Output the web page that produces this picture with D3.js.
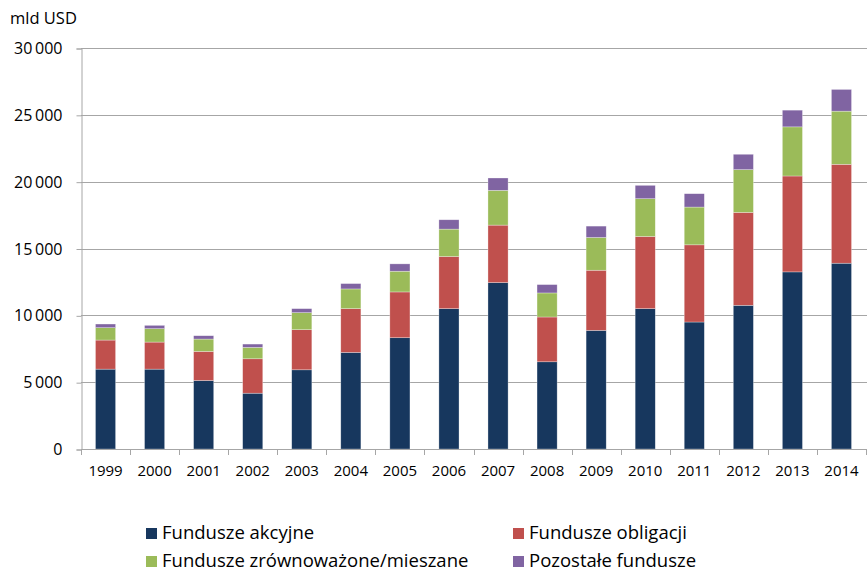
<!DOCTYPE html>
<html>
<head>
<meta charset="utf-8">
<script src="https://cdn.jsdelivr.net/npm/d3@7"></script>
<style>
  body { margin: 0; background: #fff; }
  svg { display: block; font-family: 'Open Sans', sans-serif; }
</style>
</head>
<body>
<div id="chart"></div>
<script>
var years = ['1999', '2000', '2001', '2002', '2003', '2004', '2005', '2006',
    '2007', '2008', '2009', '2010', '2011', '2012', '2013', '2014'];

var akcyjne = [5975, 5975, 5125, 4175, 5925, 7225, 8325, 10500, 12450, 6525, 8875, 10500, 9500, 10750, 13250, 13900];
var obligacji = [2175, 2025, 2175, 2575, 3000, 3275, 3425, 3900, 4300, 3350, 4500, 5400, 5775, 6950, 7175, 7400];
var mieszane = [925, 1000, 925, 850, 1275, 1475, 1550, 2050, 2600, 1800, 2450, 2825, 2825, 3200, 3675, 3975];
var pozostale = [275, 250, 250, 250, 300, 400, 550, 700, 925, 625, 850, 1000, 1000, 1150, 1250, 1625];

var series_names = ['Fundusze akcyjne', 'Fundusze obligacji',
    'Fundusze zrównoważone/mieszane', 'Pozostałe fundusze'];
var series_colors = ['#17375e', '#c0504d', '#9bbb59', '#8064a2'];
var y_ticks = [0, 5000, 10000, 15000, 20000, 25000, 30000];

var chart_width = 867;
var chart_height = 571;
var plot_left = 81, plot_right = 866, plot_top = 48, plot_bottom = 449;

var svg = d3.select('#chart')
    .append('svg')
    .attr('width', chart_width)
    .attr('height', chart_height);

// build table for stacking
var rows = years.map(function (y, i) {
    return { year: y, a: akcyjne[i], o: obligacji[i], m: mieszane[i], p: pozostale[i] };
});
var keys = ['a', 'o', 'm', 'p'];
var stacked = d3.stack().keys(keys)(rows);

var x_scale = d3.scaleBand()
    .domain(years)
    .range([plot_left, plot_right])
    .paddingInner(0.59)
    .paddingOuter(0.295);

var y_scale = d3.scaleLinear()
    .domain([0, 30000])
    .range([plot_bottom, plot_top]);

var fmt = function (d) {
    return d3.format(',')(d).replace(/,/g, '\u2009');
};

// gridlines
svg.append('g')
    .selectAll('line')
    .data(y_ticks.slice(1))
    .enter()
    .append('line')
    .attr('x1', plot_left)
    .attr('x2', plot_right + 1)
    .attr('y1', function (d) { return Math.round(y_scale(d)) + 0.5; })
    .attr('y2', function (d) { return Math.round(y_scale(d)) + 0.5; })
    .attr('stroke', '#a6a6a6')
    .attr('stroke-width', 1);

// y axis
var y_axis = d3.axisLeft(y_scale)
    .tickValues(y_ticks)
    .tickSize(5)
    .tickPadding(14)
    .tickFormat(fmt);
var gy = svg.append('g')
    .attr('class', 'y-axis')
    .attr('transform', 'translate(' + (plot_left + 0.5) + ',0.5)')
    .call(y_axis);
gy.select('.domain').attr('stroke', '#a6a6a6');
gy.selectAll('.tick line').attr('stroke', '#a6a6a6');
gy.selectAll('.tick text')
    .style('font-size', '16px')
    .style('font-family', "'Open Sans', sans-serif")
    .attr('fill', '#000');

// bars
svg.append('g')
    .selectAll('g')
    .data(stacked)
    .enter()
    .append('g')
    .attr('fill', function (d, i) { return series_colors[i]; })
    .selectAll('rect')
    .data(function (d) { return d; })
    .enter()
    .append('rect')
    .attr('x', function (d) { return x_scale(d.data.year); })
    .attr('width', x_scale.bandwidth())
    .attr('y', function (d) { return y_scale(d[1]); })
    .attr('height', function (d) { return y_scale(d[0]) - y_scale(d[1]); })
    .attr('stroke', '#ffffff')
    .attr('stroke-opacity', 0.5)
    .attr('stroke-width', 0.6);

// x axis line and ticks at category boundaries
var step = x_scale.step();
var bounds = d3.range(years.length + 1).map(function (i) { return plot_left + i * step; });
var gx = svg.append('g').attr('class', 'x-axis');
gx.append('line')
    .attr('x1', plot_left)
    .attr('x2', plot_right + 1)
    .attr('y1', plot_bottom + 0.5)
    .attr('y2', plot_bottom + 0.5)
    .attr('stroke', '#a6a6a6');
gx.selectAll('.xt')
    .data(bounds)
    .enter()
    .append('line')
    .attr('class', 'xt')
    .attr('x1', function (d) { return Math.round(d) + 0.5; })
    .attr('x2', function (d) { return Math.round(d) + 0.5; })
    .attr('y1', plot_bottom)
    .attr('y2', plot_bottom + 6)
    .attr('stroke', '#a6a6a6');
gx.selectAll('text')
    .data(years)
    .enter()
    .append('text')
    .attr('x', function (d) { return x_scale(d) + x_scale.bandwidth() / 2; })
    .attr('y', plot_bottom + 27)
    .attr('text-anchor', 'middle')
    .style('font-size', '15px')
    .text(function (d) { return d; });

// unit label
svg.append('text')
    .attr('x', 10)
    .attr('y', 24)
    .style('font-size', '16.5px')
    .text('mld USD');

// legend
var legend_pos = [[146, 533], [513, 533], [146, 561], [513, 561]];
var lg = svg.append('g')
    .selectAll('g')
    .data(series_names)
    .enter()
    .append('g')
    .attr('transform', function (d, i) {
        return 'translate(' + legend_pos[i][0] + ',' + legend_pos[i][1] + ')';
    });
lg.append('rect')
    .attr('x', 0)
    .attr('y', -5)
    .attr('width', 11)
    .attr('height', 11)
    .attr('fill', function (d, i) { return series_colors[i]; });
lg.append('text')
    .attr('x', 16)
    .attr('y', 6)
    .style('font-size', '18.5px')
    .text(function (d) { return d; });
</script>
</body>
</html>
